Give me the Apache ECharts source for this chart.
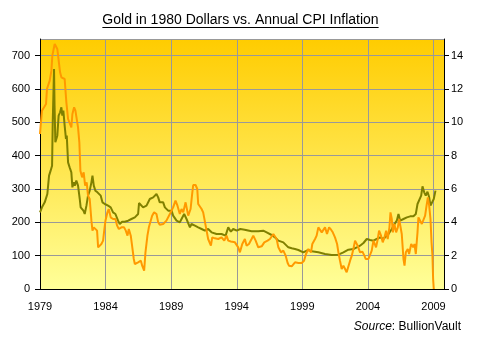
<!DOCTYPE html>
<html>
<head>
<meta charset="utf-8">
<script src="https://cdn.jsdelivr.net/npm/echarts@6/dist/echarts.min.js"></script>
<style>
html,body{margin:0;padding:0;background:#fff;}
#chart{width:477px;height:343px;}
</style>
</head>
<body>
<div id="chart"></div>
<script>
// Gold price in 1980 dollars (left axis, USD)
var goldYears = [1979.00,1979.15,1979.36,1979.56,1979.69,1979.81,1979.92,1979.97,1980.07,1980.11,1980.17,1980.25,1980.32,1980.42,1980.53,1980.63,1980.70,1980.78,1980.88,1980.98,1981.04,1981.14,1981.26,1981.39,1981.47,1981.57,1981.65,1981.77,1981.90,1982.03,1982.10,1982.21,1982.31,1982.41,1982.54,1982.66,1982.79,1982.92,1983.00,1983.10,1983.22,1983.38,1983.50,1983.63,1983.76,1983.94,1984.06,1984.19,1984.39,1984.57,1984.75,1984.95,1985.08,1985.26,1985.46,1985.72,1985.97,1986.23,1986.48,1986.55,1986.60,1986.86,1987.12,1987.37,1987.63,1987.88,1988.01,1988.13,1988.39,1988.52,1988.77,1989.03,1989.15,1989.41,1989.66,1989.79,1989.99,1990.17,1990.30,1990.43,1990.55,1990.81,1991.06,1991.32,1991.57,1991.82,1992.08,1992.46,1992.84,1993.15,1993.35,1993.55,1993.73,1994.00,1994.27,1994.60,1995.13,1995.64,1996.02,1996.28,1996.66,1996.91,1997.17,1997.55,1997.93,1998.19,1998.44,1998.70,1999.07,1999.45,1999.71,2000.22,2000.73,2001.24,2001.75,2001.90,2002.13,2002.51,2002.89,2003.15,2003.40,2003.66,2003.91,2004.17,2004.42,2004.67,2004.93,2005.18,2005.57,2005.82,2005.95,2006.20,2006.33,2006.46,2006.71,2006.97,2007.22,2007.47,2007.65,2007.78,2007.91,2008.06,2008.16,2008.29,2008.41,2008.54,2008.67,2008.77,2008.92,2009.02,2009.15];
var goldValues = [230,245,260,285,340,355,370,500,660,550,440,435,460,520,530,545,520,535,490,450,460,380,365,350,305,320,310,325,310,270,245,250,235,225,250,280,295,320,340,310,295,290,285,280,260,255,258,250,245,230,225,205,195,202,202,205,210,215,225,258,260,245,250,270,275,285,275,260,260,245,235,235,220,205,200,195,225,210,205,185,195,190,185,180,175,180,170,165,165,160,185,172,180,175,180,178,173,173,175,170,162,155,145,140,125,122,120,117,110,117,113,110,105,102,103,108,110,118,120,125,130,138,150,147,145,150,155,150,165,180,190,205,225,205,210,215,218,218,225,255,260,280,308,290,280,292,275,250,245,270,295];

// Annual CPI inflation (right axis, %)
var cpiYears = [1979.00,1979.05,1979.15,1979.31,1979.46,1979.53,1979.66,1979.74,1979.87,1979.94,1980.04,1980.12,1980.25,1980.32,1980.45,1980.53,1980.63,1980.76,1980.88,1981.01,1981.14,1981.26,1981.39,1981.47,1981.60,1981.70,1981.82,1981.90,1982.00,1982.08,1982.21,1982.33,1982.44,1982.56,1982.66,1982.79,1982.92,1983.00,1983.10,1983.22,1983.35,1983.43,1983.55,1983.68,1983.81,1983.88,1983.99,1984.14,1984.24,1984.39,1984.57,1984.75,1984.88,1985.01,1985.21,1985.41,1985.54,1985.67,1985.77,1985.92,1986.02,1986.15,1986.23,1986.48,1986.69,1986.79,1986.94,1987.04,1987.19,1987.30,1987.45,1987.55,1987.70,1987.88,1988.01,1988.13,1988.39,1988.64,1988.90,1989.15,1989.33,1989.48,1989.66,1989.79,1989.92,1990.10,1990.22,1990.30,1990.48,1990.60,1990.68,1990.86,1990.99,1991.06,1991.19,1991.32,1991.44,1991.57,1991.70,1991.82,1991.95,1992.03,1992.13,1992.33,1992.59,1992.84,1993.05,1993.22,1993.35,1993.55,1993.86,1994.11,1994.24,1994.42,1994.62,1994.75,1994.93,1995.13,1995.26,1995.44,1995.64,1995.90,1996.10,1996.35,1996.53,1996.79,1996.91,1997.04,1997.17,1997.37,1997.55,1997.73,1997.88,1997.98,1998.19,1998.44,1998.70,1998.95,1999.13,1999.28,1999.46,1999.66,1999.76,1999.97,2000.09,2000.22,2000.35,2000.48,2000.60,2000.73,2000.88,2001.04,2001.19,2001.32,2001.49,2001.65,2001.75,2001.87,2002.00,2002.13,2002.26,2002.38,2002.51,2002.64,2002.77,2002.89,2003.02,2003.15,2003.22,2003.40,2003.58,2003.73,2003.83,2004.04,2004.17,2004.29,2004.42,2004.55,2004.62,2004.75,2004.85,2005.00,2005.13,2005.26,2005.39,2005.51,2005.64,2005.72,2005.82,2005.90,2006.02,2006.15,2006.28,2006.38,2006.46,2006.58,2006.71,2006.79,2006.89,2007.04,2007.14,2007.30,2007.45,2007.55,2007.65,2007.78,2007.85,2007.98,2008.11,2008.26,2008.36,2008.47,2008.57,2008.67,2008.77,2008.85,2008.92,2008.97,2009.02];
var cpiValues = [9.3,9.8,10.7,10.9,11.1,12.0,12.1,12.5,13.1,14.0,14.1,14.7,14.76,14.4,14.4,13.0,12.7,12.8,12.6,11.2,10.2,10.1,9.7,10.5,10.9,10.7,10.1,9.7,8.8,7.1,6.7,7.0,6.2,6.4,5.6,5.4,4.1,3.5,3.7,3.8,3.5,2.5,2.4,2.7,2.9,3.4,4.1,4.6,4.8,4.3,4.2,4.2,3.8,3.6,3.7,3.7,3.5,3.2,3.6,3.2,2.6,1.8,1.5,1.6,1.7,1.4,1.1,2.2,3.2,3.7,3.8,4.4,4.6,4.5,4.0,3.85,3.9,4.1,4.5,4.9,5.3,5.0,4.5,4.8,4.6,5.2,5.24,4.4,4.8,5.7,6.24,6.24,6.0,5.1,5.0,4.8,4.6,4.5,3.5,3.0,2.9,2.6,3.1,3.04,3.0,3.1,2.9,3.2,2.9,2.85,2.8,2.5,2.2,2.7,3.0,2.6,2.7,3.0,3.2,2.9,2.5,2.56,2.8,2.9,3.0,3.3,3.4,3.0,2.5,2.2,2.3,2.0,1.56,1.4,1.36,1.6,1.56,1.56,1.7,2.1,2.4,2.2,2.7,3.0,3.2,3.7,3.64,3.4,3.5,3.7,3.3,3.7,3.56,3.4,3.1,2.7,2.2,1.7,1.2,1.4,1.2,1.0,1.1,1.7,2.0,2.4,2.9,3.0,2.6,2.2,2.24,2.0,1.8,1.8,1.7,2.3,2.9,3.0,2.5,3.0,3.5,3.2,2.8,3.1,3.5,3.0,3.7,4.6,4.2,3.4,3.9,3.4,3.7,4.2,4.3,3.3,1.8,1.4,2.2,2.4,2.1,2.7,2.5,2.7,2.1,3.4,4.3,4.2,3.9,3.9,4.4,5.0,5.5,5.0,4.2,2.8,2.0,0.6,0.0];

var xTicks = ['1979','1984','1989','1994','1999','2004','2009'];
var leftTicks = [0,100,200,300,400,500,600,700];
var rightTicks = [0,2,4,6,8,10,12,14];
var titleText = 'Gold in 1980 Dollars vs. Annual CPI Inflation';

function zip(a, b) { return a.map(function (v, i) { return [v, b[i]]; }); }

var font = 'Liberation Sans, Arial, sans-serif';
var titleSize = 14;
var ctx = document.createElement('canvas').getContext('2d');
ctx.font = titleSize + 'px ' + font;
var tw = ctx.measureText(titleText).width;
var tcx = 240.5;

var chart = echarts.init(document.getElementById('chart'));
chart.setOption({
  animation: false,
  backgroundColor: '#ffffff',
  graphic: [
    { type: 'text', x: tcx, y: 27, silent: true,
      style: { text: titleText, fontFamily: font, fontSize: titleSize, fill: '#000',
        textAlign: 'center', textVerticalAlign: 'bottom' } },
    { type: 'line', shape: { x1: tcx - tw / 2, y1: 27.5, x2: tcx + tw / 2, y2: 27.5 },
      style: { stroke: '#000', lineWidth: 1 } },
    { type: 'text', right: 16, top: 321,
      style: { text: '{i|Source}: BullionVault', fontFamily: font, fontSize: 12, fill: '#000',
        rich: { i: { fontStyle: 'italic', fontFamily: font, fontSize: 12 } } } }
  ],
  grid: {
    left: 40, right: 33, top: 39, bottom: 54,
    show: true, borderWidth: 0,
    backgroundColor: new echarts.graphic.LinearGradient(0, 0, 0, 1, [
      { offset: 0, color: '#FFCC00' },
      { offset: 1, color: '#FFFF99' }
    ])
  },
  xAxis: {
    type: 'value', min: 1979, max: 2009.8, interval: 5,
    axisLine: { show: true, lineStyle: { color: '#000', width: 1 } },
    axisTick: { show: false },
    splitLine: { show: true, lineStyle: { color: '#999999', width: 1 } },
    axisLabel: { showMaxLabel: false, margin: 12, fontFamily: font, fontSize: 11, color: '#000',
      formatter: function (v) { var s = String(Math.round(v)); return xTicks.indexOf(s) >= 0 ? s : ''; } }
  },
  yAxis: [
    { type: 'value', min: 0, max: 750, interval: 100, position: 'left',
      axisLine: { show: true, lineStyle: { color: '#000', width: 1 } },
      axisTick: { show: true, length: 5, lineStyle: { color: '#000' } },
      splitLine: { show: true, lineStyle: { color: '#999999', width: 1 } },
      axisLabel: { showMaxLabel: false, margin: 10, fontFamily: font, fontSize: 11, color: '#000',
        formatter: function (v) { return leftTicks.indexOf(v) >= 0 ? String(v) : ''; } }
    },
    { type: 'value', min: 0, max: 15, interval: 2, position: 'right',
      axisLine: { show: true, lineStyle: { color: '#000', width: 1 } },
      axisTick: { show: true, length: 5, lineStyle: { color: '#000' } },
      splitLine: { show: false },
      axisLabel: { showMaxLabel: false, margin: 7, fontFamily: font, fontSize: 11, color: '#000',
        formatter: function (v) { return rightTicks.indexOf(v) >= 0 ? String(v) : ''; } }
    }
  ],
  series: [
    { name: 'Gold (1980 $)', type: 'line', yAxisIndex: 0, showSymbol: false, symbol: 'none',
      data: zip(goldYears, goldValues), lineStyle: { color: '#808000', width: 2 } },
    { name: 'CPI inflation', type: 'line', yAxisIndex: 1, showSymbol: false, symbol: 'none',
      data: zip(cpiYears, cpiValues), lineStyle: { color: '#FF9900', width: 2 } }
  ]
});
</script>
</body>
</html>
